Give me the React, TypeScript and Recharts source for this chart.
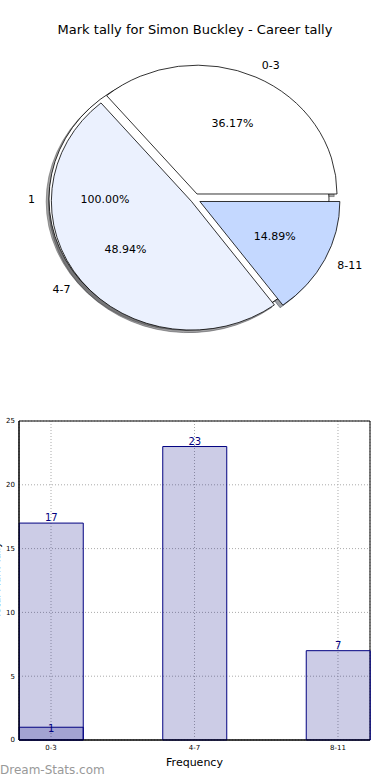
import { Bar, BarChart, CartesianGrid, Cell, LabelList, Pie, PieChart, ReferenceArea, XAxis, YAxis } from 'recharts';

// pie: the single "1" series sits under the mark buckets
const pieCategories = ['0-3', '4-7', '8-11'];
const pieCounts = [17, 23, 7];
const innerCategories = ['1'];
const innerCounts = [1];

// bars
const barCategories = ['0-3', '4-7', '8-11'];
const barTotals = [17, 23, 7];
const barOnes: (number | null)[] = [1, null, null];
const yTicks = [0, 5, 10, 15, 20, 25];

const sliceColors = ['#ffffff', '#ebf1fe', '#c4d8ff'];
const explodePx: Record<string, number> = { '0-3': 6, '4-7': 4, '8-11': 6, '1': 5.5 };
const ASPECT = 0.92;
const RAD = Math.PI / 180;
const FONT = '"DejaVu Sans", sans-serif';
const NAVY = '#000080';

const mainData = pieCategories.map((name, i) => ({ name, value: pieCounts[i] }));
const innerData = innerCategories.map((name, i) => ({ name, value: innerCounts[i] }));
const barData = barCategories.map((name, i) => ({ idx: i, name, total: barTotals[i], ones: barOnes[i] }));

function wedgePath(cx: number, cy: number, rx: number, ry: number, a0: number, a1: number) {
  if (Math.abs(a1 - a0) >= 359.99) {
    return `M ${cx + rx} ${cy} A ${rx} ${ry} 0 1 0 ${cx - rx} ${cy} A ${rx} ${ry} 0 1 0 ${cx + rx} ${cy} Z`;
  }
  const x0 = cx + rx * Math.cos(a0 * RAD);
  const y0 = cy - ry * Math.sin(a0 * RAD);
  const x1 = cx + rx * Math.cos(a1 * RAD);
  const y1 = cy - ry * Math.sin(a1 * RAD);
  const large = a1 - a0 > 180 ? 1 : 0;
  return `M ${cx} ${cy} L ${x0} ${y0} A ${rx} ${ry} 0 ${large} 0 ${x1} ${y1} Z`;
}

function darken(hex: string) {
  const h = (hex || '#ffffff').replace('#', '');
  const r = parseInt(h.slice(0, 2), 16) * 0.3;
  const g = parseInt(h.slice(2, 4), 16) * 0.3;
  const b = parseInt(h.slice(4, 6), 16) * 0.3;
  return `rgb(${r},${g},${b})`;
}

const makeWedge = (mode: 'shadow' | 'wedge' | 'none') => (props: any) => {
  if (mode === 'none') return <g />;
  const { cx, cy, outerRadius, startAngle, endAngle, fill } = props;
  const name = props.name ?? props.payload?.name;
  const mid = (startAngle + endAngle) / 2;
  const d = explodePx[name] ?? 0;
  const rx = outerRadius;
  const ry = outerRadius * ASPECT;
  let x = cx + d * Math.cos(mid * RAD);
  let y = cy - d * ASPECT * Math.sin(mid * RAD);
  if (mode === 'shadow') {
    x -= 0.02 * rx;
    y += 0.02 * ry;
    const c = darken(fill);
    return <path d={wedgePath(x, y, rx, ry, startAngle, endAngle)} fill={c} stroke={c} fillOpacity={0.5} strokeOpacity={0.5} />;
  }
  return <path d={wedgePath(x, y, rx, ry, startAngle, endAngle)} fill={fill} stroke="#000" strokeWidth={0.8} />;
};

const renderLabel = (props: any) => {
  const { cx, cy, midAngle, outerRadius, percent } = props;
  const name = props.name ?? props.payload?.name;
  const d = explodePx[name] ?? 0;
  const c = Math.cos(midAngle * RAD);
  const s = Math.sin(midAngle * RAD);
  const ox = cx + d * c;
  const oy = cy - d * ASPECT * s;
  const rx = outerRadius;
  const ry = outerRadius * ASPECT;
  return (
    <g>
      <text x={ox + 1.1 * rx * c} y={oy - 1.1 * ry * s} textAnchor={c >= 0 ? 'start' : 'end'} dominantBaseline="central" fontSize={11} fill="#000" fontFamily={FONT}>
        {name}
      </text>
      <text x={ox + 0.6 * rx * c} y={oy - 0.6 * ry * s} textAnchor="middle" dominantBaseline="central" fontSize={11} fill="#000" fontFamily={FONT}>
        {(percent * 100).toFixed(2)}%
      </text>
    </g>
  );
};

const CX = 194.5;
const CY = 199;
const R = 140;

export default function App() {
  const pieCommon = { cx: CX, cy: CY, outerRadius: R, dataKey: 'value', nameKey: 'name', isAnimationActive: false, labelLine: false, stroke: 'none' };
  return (
    <div style={{ position: 'absolute', left: 0, top: 0, width: 390, height: 780, background: '#fff', fontFamily: FONT, overflow: 'hidden' }}>
      <div style={{ position: 'absolute', top: 22, left: 0, width: 390, textAlign: 'center', fontSize: 13, lineHeight: '16px', color: '#000' }}>
        Mark tally for Simon Buckley - Career tally
      </div>
      <div style={{ position: 'absolute', top: 0, left: 0 }}>
        <PieChart width={390} height={380} margin={{ top: 0, right: 0, bottom: 0, left: 0 }}>
          <Pie {...pieCommon} data={innerData} shape={makeWedge('shadow')} inactiveShape={makeWedge('shadow')} activeShape={makeWedge('shadow')}>
            <Cell fill="#ffffff" />
          </Pie>
          <Pie {...pieCommon} data={mainData} shape={makeWedge('shadow')} inactiveShape={makeWedge('shadow')} activeShape={makeWedge('shadow')}>
            {mainData.map((e, i) => (
              <Cell key={e.name} fill={sliceColors[i]} />
            ))}
          </Pie>
          <Pie {...pieCommon} data={innerData} shape={makeWedge('wedge')} inactiveShape={makeWedge('wedge')} activeShape={makeWedge('wedge')}>
            <Cell fill="#ffffff" />
          </Pie>
          <Pie {...pieCommon} data={mainData} shape={makeWedge('wedge')} inactiveShape={makeWedge('wedge')} activeShape={makeWedge('wedge')} label={renderLabel}>
            {mainData.map((e, i) => (
              <Cell key={e.name} fill={sliceColors[i]} />
            ))}
          </Pie>
          <Pie {...pieCommon} data={innerData} shape={makeWedge('none')} inactiveShape={makeWedge('none')} activeShape={makeWedge('none')} label={renderLabel}>
            <Cell fill="none" />
          </Pie>
        </PieChart>
      </div>

      <div style={{ position: 'absolute', top: 400, left: 0 }}>
        <BarChart width={390} height={380} data={barData} margin={{ top: 21, right: 20, bottom: 10, left: 0 }}>
          <CartesianGrid stroke="#aaa" strokeDasharray="1 2" />
          <XAxis
            type="number"
            dataKey="idx"
            domain={[-0.223, 2.223]}
            ticks={[0, 1, 2]}
            tickFormatter={(v: number) => barCategories[v] ?? ''}
            tick={{ fill: '#000', fontSize: 7, fontFamily: FONT }}
            tickLine={false}
            tickSize={0}
            tickMargin={5}
            axisLine={{ stroke: '#000' }}
            height={30}
            label={{ value: 'Frequency', position: 'insideBottom', offset: 4, fontSize: 11, fill: '#000', fontFamily: FONT }}
          />
          <XAxis xAxisId={1} type="number" dataKey="idx" domain={[-0.223, 2.223]} hide />
          <YAxis
            domain={[0, 25]}
            ticks={yTicks}
            tick={{ fill: '#000', fontSize: 7, fontFamily: FONT }}
            tickLine={false}
            tickSize={0}
            tickMargin={4}
            axisLine={{ stroke: '#000' }}
            width={19}
          />
          <Bar dataKey="total" barSize={64} fill={NAVY} fillOpacity={0.2} stroke={NAVY} strokeWidth={1} isAnimationActive={false}>
            <LabelList dataKey="total" position="top" offset={2} fill={NAVY} fontSize={10} fontFamily={FONT} />
          </Bar>
          <Bar xAxisId={1} dataKey="ones" barSize={64} fill={NAVY} fillOpacity={0.2} stroke={NAVY} strokeWidth={1} isAnimationActive={false}>
            <LabelList dataKey="ones" position="top" offset={-5} fill={NAVY} fontSize={10} fontFamily={FONT} />
          </Bar>
          <ReferenceArea x1={-0.223} x2={2.223} y1={0} y2={25} fill="none" stroke="#000" strokeWidth={1} ifOverflow="visible" />
        </BarChart>
      </div>

      <div style={{ position: 'absolute', left: -43, top: 574, width: 80, textAlign: 'center', fontSize: 10, lineHeight: '12px', transform: 'rotate(-90deg)', color: '#000' }}>
        Total Mark Tally
      </div>
      <div style={{ position: 'absolute', left: 0, top: 762, fontSize: 12, lineHeight: '16px', color: '#999' }}>
        Dream-Stats.com
      </div>
    </div>
  );
}
